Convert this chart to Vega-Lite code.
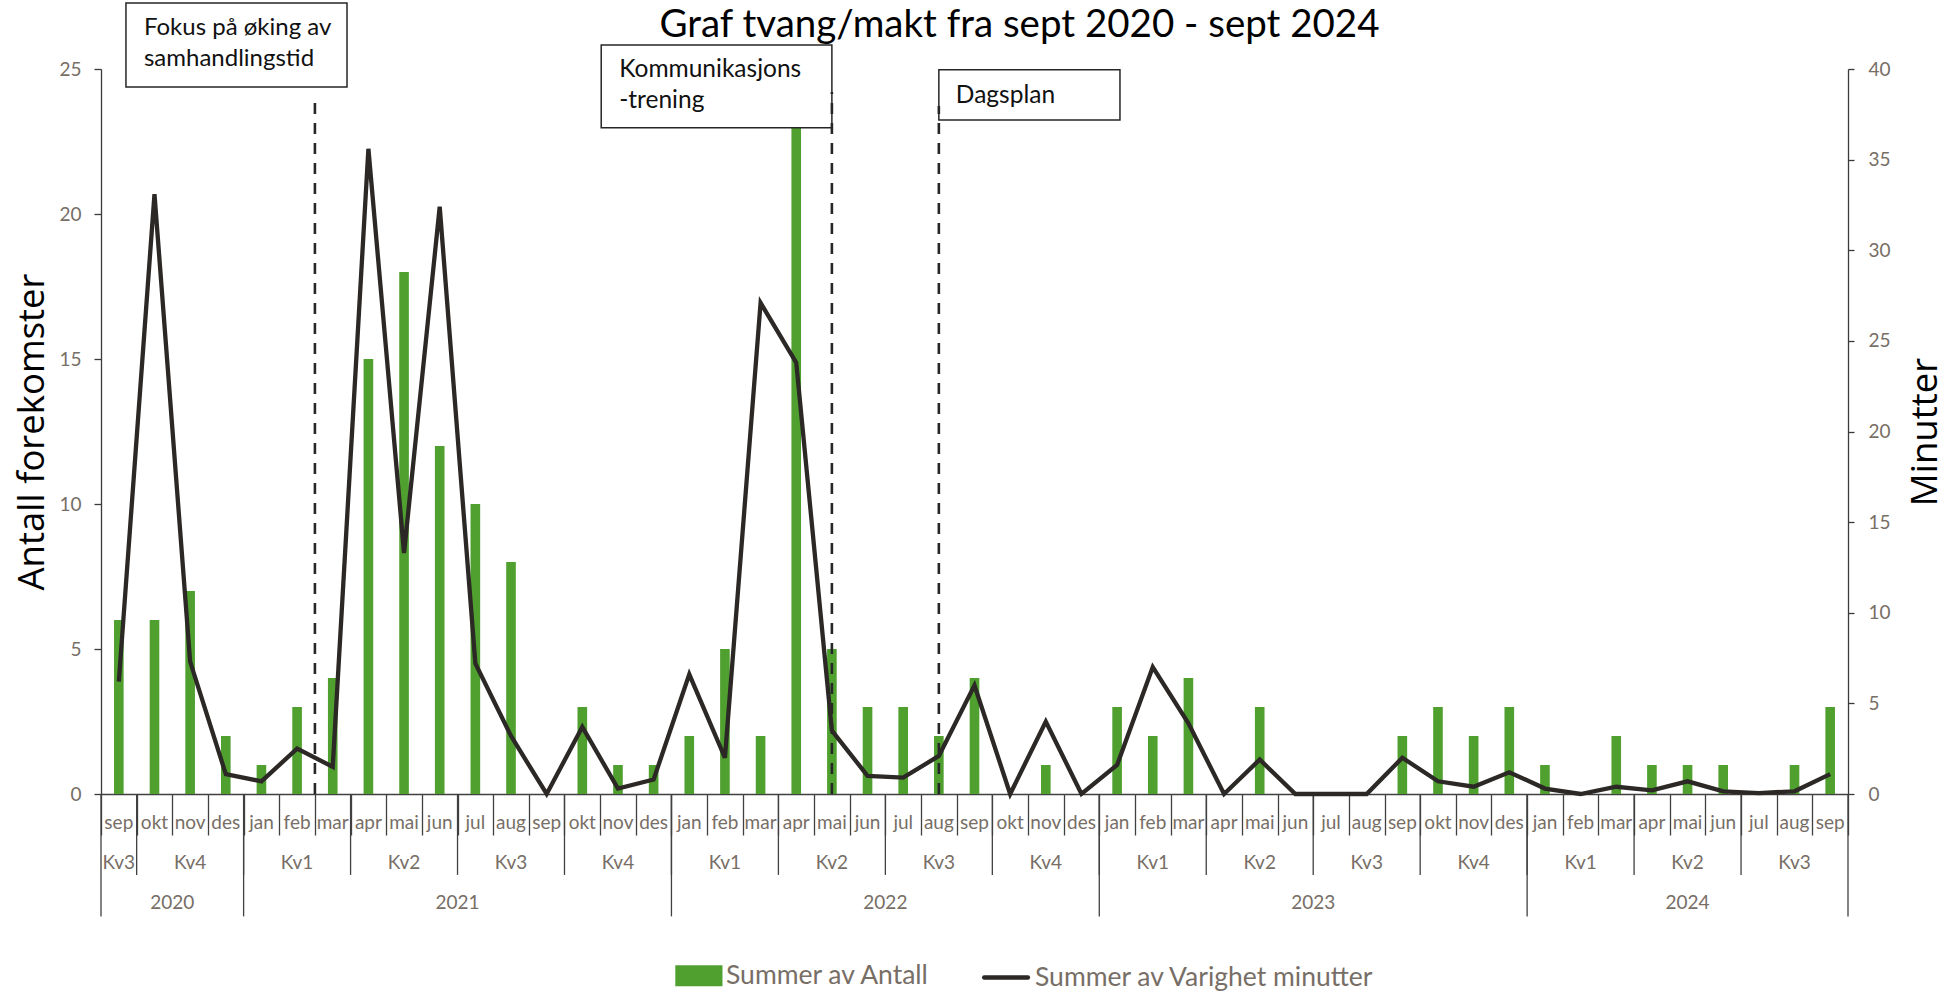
{
  "$schema": "https://vega.github.io/schema/vega-lite/v6.json",
  "autosize": {"type": "none"},
  "width": 1747,
  "height": 725,
  "padding": {"left": 101, "top": 69, "right": 109, "bottom": 201},
  "background": "#ffffff",
  "config": {"view": {"stroke": null}, "font": "Lato"},
  "title": {"text": "Graf tvang/makt fra sept 2020 - sept 2024", "font": "Lato", "fontSize": 38.5, "fontWeight": "normal", "color": "#000000", "anchor": "middle", "frame": "group", "dx": 45, "offset": -43},
  "datasets": {
    "maaned": [
      {"m": "2020-09", "mnd": "sep", "kv": "Kv3", "aar": "2020", "antall": 6, "minutter": 6.2},
      {"m": "2020-10", "mnd": "okt", "kv": "Kv4", "aar": "2020", "antall": 6, "minutter": 33.1},
      {"m": "2020-11", "mnd": "nov", "kv": "Kv4", "aar": "2020", "antall": 7, "minutter": 7.3},
      {"m": "2020-12", "mnd": "des", "kv": "Kv4", "aar": "2020", "antall": 2, "minutter": 1.1},
      {"m": "2021-01", "mnd": "jan", "kv": "Kv1", "aar": "2021", "antall": 1, "minutter": 0.7},
      {"m": "2021-02", "mnd": "feb", "kv": "Kv1", "aar": "2021", "antall": 3, "minutter": 2.5},
      {"m": "2021-03", "mnd": "mar", "kv": "Kv1", "aar": "2021", "antall": 4, "minutter": 1.5},
      {"m": "2021-04", "mnd": "apr", "kv": "Kv2", "aar": "2021", "antall": 15, "minutter": 35.6},
      {"m": "2021-05", "mnd": "mai", "kv": "Kv2", "aar": "2021", "antall": 18, "minutter": 13.3},
      {"m": "2021-06", "mnd": "jun", "kv": "Kv2", "aar": "2021", "antall": 12, "minutter": 32.4},
      {"m": "2021-07", "mnd": "jul", "kv": "Kv3", "aar": "2021", "antall": 10, "minutter": 7.2},
      {"m": "2021-08", "mnd": "aug", "kv": "Kv3", "aar": "2021", "antall": 8, "minutter": 3.2},
      {"m": "2021-09", "mnd": "sep", "kv": "Kv3", "aar": "2021", "antall": 0, "minutter": 0},
      {"m": "2021-10", "mnd": "okt", "kv": "Kv4", "aar": "2021", "antall": 3, "minutter": 3.7},
      {"m": "2021-11", "mnd": "nov", "kv": "Kv4", "aar": "2021", "antall": 1, "minutter": 0.3},
      {"m": "2021-12", "mnd": "des", "kv": "Kv4", "aar": "2021", "antall": 1, "minutter": 0.8},
      {"m": "2022-01", "mnd": "jan", "kv": "Kv1", "aar": "2022", "antall": 2, "minutter": 6.6},
      {"m": "2022-02", "mnd": "feb", "kv": "Kv1", "aar": "2022", "antall": 5, "minutter": 2.0},
      {"m": "2022-03", "mnd": "mar", "kv": "Kv1", "aar": "2022", "antall": 2, "minutter": 27.1},
      {"m": "2022-04", "mnd": "apr", "kv": "Kv2", "aar": "2022", "antall": 23, "minutter": 23.8},
      {"m": "2022-05", "mnd": "mai", "kv": "Kv2", "aar": "2022", "antall": 5, "minutter": 3.5},
      {"m": "2022-06", "mnd": "jun", "kv": "Kv2", "aar": "2022", "antall": 3, "minutter": 1.0},
      {"m": "2022-07", "mnd": "jul", "kv": "Kv3", "aar": "2022", "antall": 3, "minutter": 0.9},
      {"m": "2022-08", "mnd": "aug", "kv": "Kv3", "aar": "2022", "antall": 2, "minutter": 2.1},
      {"m": "2022-09", "mnd": "sep", "kv": "Kv3", "aar": "2022", "antall": 4, "minutter": 6.0},
      {"m": "2022-10", "mnd": "okt", "kv": "Kv4", "aar": "2022", "antall": 0, "minutter": 0},
      {"m": "2022-11", "mnd": "nov", "kv": "Kv4", "aar": "2022", "antall": 1, "minutter": 4.0},
      {"m": "2022-12", "mnd": "des", "kv": "Kv4", "aar": "2022", "antall": 0, "minutter": 0},
      {"m": "2023-01", "mnd": "jan", "kv": "Kv1", "aar": "2023", "antall": 3, "minutter": 1.6},
      {"m": "2023-02", "mnd": "feb", "kv": "Kv1", "aar": "2023", "antall": 2, "minutter": 7.0},
      {"m": "2023-03", "mnd": "mar", "kv": "Kv1", "aar": "2023", "antall": 4, "minutter": 3.9},
      {"m": "2023-04", "mnd": "apr", "kv": "Kv2", "aar": "2023", "antall": 0, "minutter": 0},
      {"m": "2023-05", "mnd": "mai", "kv": "Kv2", "aar": "2023", "antall": 3, "minutter": 1.9},
      {"m": "2023-06", "mnd": "jun", "kv": "Kv2", "aar": "2023", "antall": 0, "minutter": 0},
      {"m": "2023-07", "mnd": "jul", "kv": "Kv3", "aar": "2023", "antall": 0, "minutter": 0},
      {"m": "2023-08", "mnd": "aug", "kv": "Kv3", "aar": "2023", "antall": 0, "minutter": 0},
      {"m": "2023-09", "mnd": "sep", "kv": "Kv3", "aar": "2023", "antall": 2, "minutter": 2.0},
      {"m": "2023-10", "mnd": "okt", "kv": "Kv4", "aar": "2023", "antall": 3, "minutter": 0.7},
      {"m": "2023-11", "mnd": "nov", "kv": "Kv4", "aar": "2023", "antall": 2, "minutter": 0.4},
      {"m": "2023-12", "mnd": "des", "kv": "Kv4", "aar": "2023", "antall": 3, "minutter": 1.2},
      {"m": "2024-01", "mnd": "jan", "kv": "Kv1", "aar": "2024", "antall": 1, "minutter": 0.3},
      {"m": "2024-02", "mnd": "feb", "kv": "Kv1", "aar": "2024", "antall": 0, "minutter": 0},
      {"m": "2024-03", "mnd": "mar", "kv": "Kv1", "aar": "2024", "antall": 2, "minutter": 0.4},
      {"m": "2024-04", "mnd": "apr", "kv": "Kv2", "aar": "2024", "antall": 1, "minutter": 0.2},
      {"m": "2024-05", "mnd": "mai", "kv": "Kv2", "aar": "2024", "antall": 1, "minutter": 0.7},
      {"m": "2024-06", "mnd": "jun", "kv": "Kv2", "aar": "2024", "antall": 1, "minutter": 0.15},
      {"m": "2024-07", "mnd": "jul", "kv": "Kv3", "aar": "2024", "antall": 0, "minutter": 0.05},
      {"m": "2024-08", "mnd": "aug", "kv": "Kv3", "aar": "2024", "antall": 1, "minutter": 0.15},
      {"m": "2024-09", "mnd": "sep", "kv": "Kv3", "aar": "2024", "antall": 3, "minutter": 1.1}
    ]
  },
  "layer": [
    {
      "layer": [
        {
          "data": {"name": "maaned"},
          "mark": {"type": "bar", "width": {"band": 0.27}},
          "encoding": {
            "x": {"field": "m", "type": "nominal", "title": null, "sort": "ascending",
                  "scale": {"paddingInner": 0, "paddingOuter": 0},
                  "axis": {"labels": false, "title": null, "grid": false, "tickBand": "extent", "tickSize": 41, "tickColor": "#404040", "tickWidth": 1.3, "domainColor": "#404040", "domainWidth": 1.3}},
            "y": {"field": "antall", "type": "quantitative", "scale": {"domain": [0, 25], "nice": false},
                  "axis": {"orient": "left", "values": [0, 5, 10, 15, 20, 25], "grid": false, "tickSize": 7, "tickColor": "#3a3a3a", "tickWidth": 1.3, "domainColor": "#3a3a3a", "domainWidth": 1.3, "labelPadding": 13, "labelFont": "Lato", "labelFontSize": 19, "labelColor": "#776e66", "title": "Antall forekomster", "titleFont": "Open Sans", "titleFontSize": 36.5, "titleFontWeight": "normal", "titleColor": "#000000", "titlePadding": 7}},
            "color": {"datum": "Summer av Antall", "type": "nominal",
                      "scale": {"domain": ["Summer av Antall", "Summer av Varighet minutter"], "range": ["#50a030", "#2b2825"]},
                      "legend": {"orient": "none", "legendX": 574, "legendY": 881, "direction": "horizontal", "title": null, "labelFont": "Lato", "labelFontSize": 26.5, "labelColor": "#776e66", "labelLimit": 600, "labelOffset": 0, "symbolSize": 2116, "columnPadding": 45,
                                 "encode": {"symbols": {"update": {
                                   "shape": {"signal": "datum.value === 'Summer av Antall' ? 'M-1,-0.36L0.86,-0.36L0.86,0.36L-1,0.36Z' : 'M-1.1,0L0.8,0'"},
                                   "fill": {"signal": "datum.value === 'Summer av Antall' ? '#50a030' : 'transparent'"},
                                   "stroke": {"signal": "datum.value === 'Summer av Antall' ? 'transparent' : '#2b2825'"},
                                   "strokeWidth": {"value": 4.4},
                                   "strokeCap": {"value": "round"},
                                   "size": {"value": 2116},
                                   "opacity": {"value": 1}
                                 }}}}}
          }
        },
        {
          "data": {"name": "maaned"},
          "mark": {"type": "text", "font": "Lato", "fontSize": 19, "color": "#776e66", "baseline": "middle", "align": "center"},
          "encoding": {
            "x": {"field": "m", "type": "nominal", "title": null},
            "y": {"datum": -0.99},
            "text": {"field": "mnd", "type": "nominal"}
          }
        },
        {
          "data": {"name": "maaned"},
          "transform": [{"filter": "indexof(['jan','apr','jul','okt'], datum.mnd) >= 0"}],
          "mark": {"type": "rule", "color": "#404040", "strokeWidth": 1.3},
          "encoding": {
            "x": {"field": "m", "type": "nominal", "title": null, "bandPosition": 0},
            "y": {"datum": 0},
            "y2": {"datum": -2.79}
          }
        },
        {
          "data": {"name": "maaned"},
          "transform": [{"filter": "datum.mnd == 'jan' || datum.m == '2020-09'"}],
          "mark": {"type": "rule", "color": "#404040", "strokeWidth": 1.3},
          "encoding": {
            "x": {"field": "m", "type": "nominal", "title": null, "bandPosition": 0},
            "y": {"datum": 0},
            "y2": {"datum": -4.22}
          }
        },
        {
          "data": {"name": "maaned"},
          "transform": [{"filter": "datum.m == '2024-09'"}],
          "mark": {"type": "rule", "color": "#404040", "strokeWidth": 1.3},
          "encoding": {
            "x": {"field": "m", "type": "nominal", "title": null, "bandPosition": 1},
            "y": {"datum": 0},
            "y2": {"datum": -4.22}
          }
        },
        {
          "data": {"name": "maaned"},
          "transform": [{"filter": "indexof(['feb','mai','aug','nov'], datum.mnd) >= 0 || datum.m == '2020-09'"}],
          "mark": {"type": "text", "font": "Lato", "fontSize": 19, "color": "#776e66", "baseline": "middle", "align": "center"},
          "encoding": {
            "x": {"field": "m", "type": "nominal", "title": null},
            "y": {"datum": -2.37},
            "text": {"field": "kv", "type": "nominal"}
          }
        },
        {
          "data": {"name": "maaned"},
          "transform": [{"filter": "datum.m == '2020-10' || (datum.mnd == 'jun' && datum.aar != '2024')"}],
          "mark": {"type": "text", "font": "Lato", "fontSize": 19, "color": "#776e66", "baseline": "middle", "align": "center"},
          "encoding": {
            "x": {"field": "m", "type": "nominal", "title": null, "bandPosition": 1},
            "y": {"datum": -3.76},
            "text": {"field": "aar", "type": "nominal"}
          }
        },
        {
          "data": {"name": "maaned"},
          "transform": [{"filter": "datum.m == '2024-05'"}],
          "mark": {"type": "text", "font": "Lato", "fontSize": 19, "color": "#776e66", "baseline": "middle", "align": "center"},
          "encoding": {
            "x": {"field": "m", "type": "nominal", "title": null},
            "y": {"datum": -3.76},
            "text": {"field": "aar", "type": "nominal"}
          }
        },
        {
          "data": {"values": [{"fra": "2020-09", "til": "2021-03"}]},
          "mark": {"type": "rect", "fill": "#ffffff", "stroke": "#262626", "strokeWidth": 1.5},
          "encoding": {
            "x": {"field": "fra", "type": "nominal", "title": null, "bandPosition": 0.7},
            "x2": {"field": "til", "bandPosition": 0.9},
            "y": {"datum": 27.28},
            "y2": {"datum": 24.38}
          }
        },
        {
          "data": {"values": [{"fra": "2020-09", "tekst": ["Fokus på øking av", "samhandlingstid"]}]},
          "mark": {"type": "text", "font": "Lato", "fontSize": 24, "color": "#111111", "align": "left", "baseline": "middle", "lineHeight": 31, "dx": 18},
          "encoding": {
            "x": {"field": "fra", "type": "nominal", "title": null, "bandPosition": 0.7},
            "y": {"datum": 26.4},
            "text": {"field": "tekst"}
          }
        },
        {
          "data": {"values": [{"m": "2021-03", "tiltak": "Fokus på øking av samhandlingstid"}]},
          "mark": {"type": "rule", "color": "#262626", "strokeWidth": 2.6, "strokeDash": [11, 9]},
          "encoding": {
            "x": {"field": "m", "type": "nominal", "title": null, "bandPosition": 0},
            "y": {"datum": 0},
            "y2": {"datum": 24.14}
          }
        },
        {
          "data": {"values": [{"fra": "2021-11", "til": "2022-05"}]},
          "mark": {"type": "rect", "fill": "#ffffff", "stroke": "#262626", "strokeWidth": 1.5},
          "encoding": {
            "x": {"field": "fra", "type": "nominal", "title": null, "bandPosition": 0.03},
            "x2": {"field": "til", "bandPosition": 0.5},
            "y": {"datum": 25.83},
            "y2": {"datum": 22.97}
          }
        },
        {
          "data": {"values": [{"fra": "2021-11", "tekst": ["Kommunikasjons", "-trening"]}]},
          "mark": {"type": "text", "font": "Lato", "fontSize": 24.5, "color": "#111111", "align": "left", "baseline": "middle", "lineHeight": 31, "dx": 18},
          "encoding": {
            "x": {"field": "fra", "type": "nominal", "title": null, "bandPosition": 0.03},
            "y": {"datum": 24.95},
            "text": {"field": "tekst"}
          }
        },
        {
          "data": {"values": [{"m": "2022-05", "tiltak": "Kommunikasjonstrening"}]},
          "mark": {"type": "rule", "color": "#262626", "strokeWidth": 2.6, "strokeDash": [11, 9]},
          "encoding": {
            "x": {"field": "m", "type": "nominal", "title": null, "bandPosition": 0.5},
            "y": {"datum": 0},
            "y2": {"datum": 24.21}
          }
        },
        {
          "data": {"values": [{"fra": "2022-08", "til": "2023-01"}]},
          "mark": {"type": "rect", "fill": "#ffffff", "stroke": "#262626", "strokeWidth": 1.5},
          "encoding": {
            "x": {"field": "fra", "type": "nominal", "title": null, "bandPosition": 0.5},
            "x2": {"field": "til", "bandPosition": 0.58},
            "y": {"datum": 24.97},
            "y2": {"datum": 23.24}
          }
        },
        {
          "data": {"values": [{"fra": "2022-08", "tekst": "Dagsplan"}]},
          "mark": {"type": "text", "font": "Lato", "fontSize": 24.5, "color": "#111111", "align": "left", "baseline": "middle", "dx": 17},
          "encoding": {
            "x": {"field": "fra", "type": "nominal", "title": null, "bandPosition": 0.5},
            "y": {"datum": 24.07},
            "text": {"field": "tekst"}
          }
        },
        {
          "data": {"values": [{"m": "2022-08", "tiltak": "Dagsplan"}]},
          "mark": {"type": "rule", "color": "#262626", "strokeWidth": 2.6, "strokeDash": [11, 9]},
          "encoding": {
            "x": {"field": "m", "type": "nominal", "title": null, "bandPosition": 0.5},
            "y": {"datum": 0},
            "y2": {"datum": 23.72}
          }
        }
      ]
    },
    {
      "data": {"name": "maaned"},
      "mark": {"type": "line", "strokeWidth": 4.3},
      "encoding": {
        "x": {"field": "m", "type": "nominal", "title": null},
        "y": {"field": "minutter", "type": "quantitative", "scale": {"domain": [0, 40], "nice": false},
              "axis": {"orient": "right", "values": [0, 5, 10, 15, 20, 25, 30, 35, 40], "grid": false, "tickSize": 6, "tickColor": "#3a3a3a", "tickWidth": 1.3, "domainColor": "#3a3a3a", "domainWidth": 1.3, "labelPadding": 14, "labelFont": "Lato", "labelFontSize": 19, "labelColor": "#776e66", "title": "Minutter", "titleFont": "Open Sans", "titleFontSize": 36.5, "titleFontWeight": "normal", "titleColor": "#000000", "titleAngle": 270, "titleBaseline": "top", "titlePadding": 17}},
        "color": {"datum": "Summer av Varighet minutter", "type": "nominal"}
      }
    }
  ],
  "resolve": {"scale": {"y": "independent"}}
}
